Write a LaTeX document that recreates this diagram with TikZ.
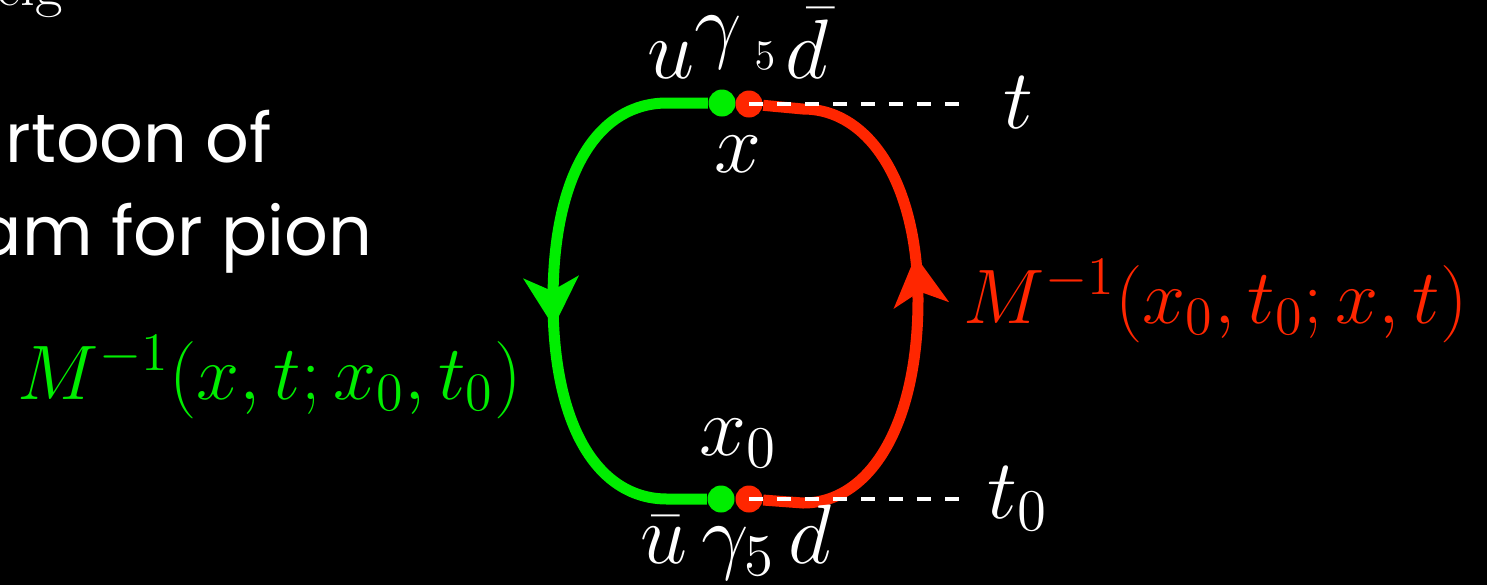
\documentclass[tikz,border=0pt]{standalone}
\usepackage{fix-cm}
\usepackage{fontspec}
\newfontfamily\slidefont{Poppins}
\usetikzlibrary{arrows.meta,decorations.markings}
\definecolor{qgreen}{RGB}{0,238,0}
\definecolor{qred}{RGB}{255,38,0}
\tikzset{
  prop/.style={line width=1.1mm},
  vtx/.style={circle, fill, inner sep=0pt, minimum size=2.7mm},
  lab/.style={text=white, inner sep=0pt, font=\fontsize{24}{28}\selectfont},
  plab/.style={inner sep=0pt, font=\fontsize{22}{26}\selectfont},
  slide/.style={text=white, inner sep=0pt, font=\slidefont\fontsize{19.5}{23}\selectfont},
  tline/.style={white, line width=1.4pt, dash pattern=on 1.4mm off 1.4mm},
  midarr/.style={postaction={decorate, decoration={markings,
    mark=at position #1 with {\arrow{Stealth[length=5mm, width=5.6mm, inset=1.4mm, line width=0pt]}}}}},
}

\begin{document}
\begin{tikzpicture}[x=1cm,y=1cm]
\fill[black] (0,0) rectangle (14.87,5.85);
\useasboundingbox (0,0) rectangle (14.87,5.85);
% slide text, cut at the left
\node[text=white, inner sep=0pt, anchor=base east, font=\fontsize{17}{20}\selectfont] (cap) at (0.64,5.80) {eig};
\node[slide, anchor=base east] (ln1) at (2.73,4.23) {rtoon of};
\node[slide, anchor=base east] (ln2) at (3.73,3.30) {am for pion};
% vertices
\node[vtx, qgreen] (gx) at (7.22,4.82) {};
\node[vtx, qgreen] (gx0) at (7.21,0.86) {};
\node[vtx, qred] (rx) at (7.49,4.81) {};
\node[vtx, qred] (rx0) at (7.49,0.86) {};
% propagators
\draw[prop, qgreen, midarr=0.545] (gx) -- (6.67,4.82) .. controls (6.00,4.82) and (5.53,4.15) .. (5.53,2.85)
  .. controls (5.53,1.55) and (6.00,0.86) .. (6.67,0.86) -- (gx0);
\draw[prop, qred, midarr=0.585] (rx0) -- (8.03,0.82) .. controls (8.70,0.82) and (9.18,1.60) .. (9.18,2.85)
  .. controls (9.18,4.00) and (8.70,4.76) .. (8.03,4.76) -- (rx);
% labels
\node[lab, anchor=base] (src) at (7.38,5.07)
  {$u\raisebox{0.3em}{$\gamma$}\hspace{0.15em}\raisebox{0.1em}{$\scriptscriptstyle 5$}\hspace{0.12em}\bar{d}$};
\node[lab, anchor=base] (xl) at (7.38,4.13) {$x$};
\node[lab, anchor=base] (x0l) at (7.38,1.30) {$x_0$};
\node[lab, anchor=base] (snk) at (7.36,0.22) {$\bar{u}\,\gamma_5\,d$};
\node[lab, anchor=base west] (tl) at (10.03,4.57) {$t$};
\node[lab, anchor=base west] (t0l) at (9.87,0.67) {$t_0$};
\node[plab, text=qgreen, anchor=base west] (gprop) at (0.17,1.86) {$M^{-1}(x,t;x_0,t_0)$};
\node[plab, text=qred, anchor=base west] (rprop) at (9.63,2.62) {$M^{-1}(x_0,t_0;x,t)$};
% time slices
\draw[tline, shorten >=4.4mm] (rx.center) -- (rx.center -| tl.west);
\draw[tline, shorten >=2.8mm] (rx0.center) -- (rx0.center -| t0l.west);
\end{tikzpicture}
\end{document}
